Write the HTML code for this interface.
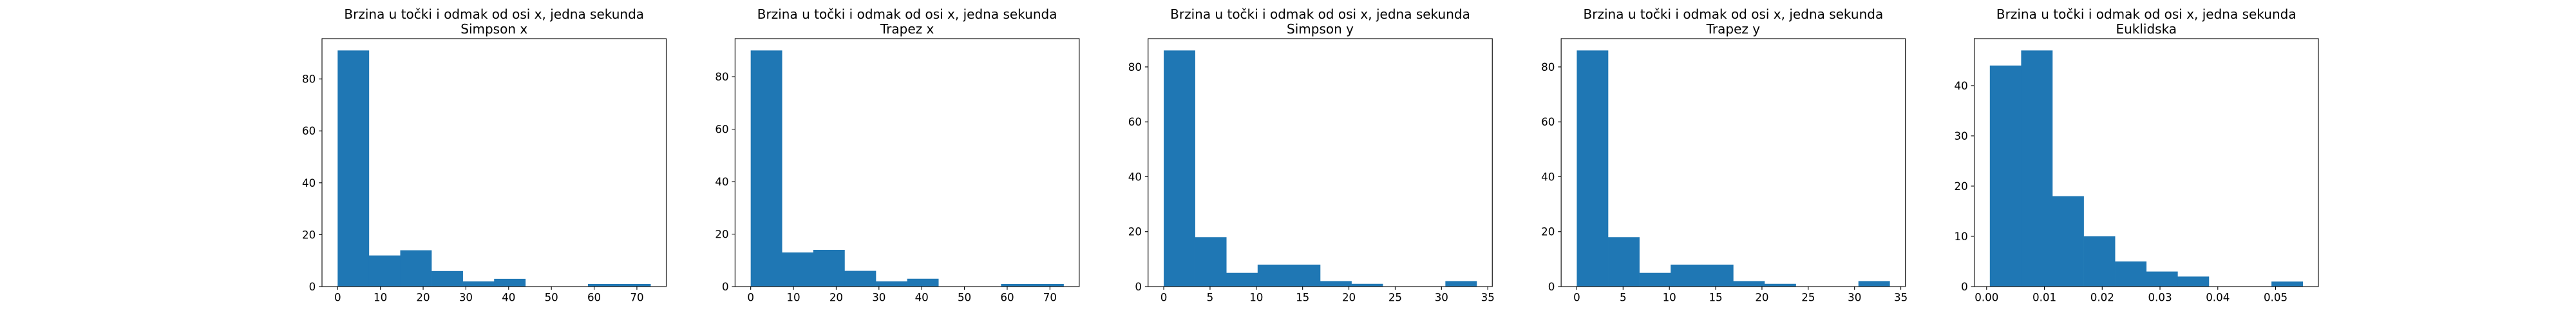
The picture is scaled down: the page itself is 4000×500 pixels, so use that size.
<!DOCTYPE html>
<html><head><meta charset="utf-8"><style>
html,body{margin:0;padding:0;background:#fff;}
svg{display:block;font-family:"DejaVu Sans","Liberation Sans",sans-serif;}
</style></head><body>
<svg id="fig" width="4000" height="500" viewBox="0 0 4000 500" xmlns="http://www.w3.org/2000/svg"></svg>
<script>
// Histogram data per panel
const titles = ["Simpson x","Trapez x","Simpson y","Trapez y","Euklidska"];
const countsSimpsonX = [91,12,14,6,2,3,0,0,1,1];
const countsTrapezX = [90,13,14,6,2,3,0,0,1,1];
const countsSimpsonY = [86,18,5,8,8,2,1,0,0,2];
const countsTrapezY = [86,18,5,8,8,2,1,0,0,2];
const countsEuklid = [44,47,18,10,5,3,2,0,0,1];
const rangeSimpsonX = [0,73.2];
const rangeTrapezX = [0,73.2];
const rangeSimpsonY = [0,33.8];
const rangeTrapezY = [0,33.8];
const rangeEuklid = [0.00056,0.0547];
const xTicksA = [0,10,20,30,40,50,60,70];
const xTicksB = [0,5,10,15,20,25,30,35];
const xTicksC = [0,0.01,0.02,0.03,0.04,0.05];
const xTickLabelsC = ["0.00","0.01","0.02","0.03","0.04","0.05"];
const yTicksA = [0,20,40,60,80];
const yTicksC = [0,10,20,30,40];

const panels = [
 {counts:countsSimpsonX, range:rangeSimpsonX, xt:xTicksA, xl:null, yt:yTicksA},
 {counts:countsTrapezX, range:rangeTrapezX, xt:xTicksA, xl:null, yt:yTicksA},
 {counts:countsSimpsonY, range:rangeSimpsonY, xt:xTicksB, xl:null, yt:yTicksA},
 {counts:countsTrapezY, range:rangeTrapezY, xt:xTicksB, xl:null, yt:yTicksA},
 {counts:countsEuklid, range:rangeEuklid, xt:xTicksC, xl:xTickLabelsC, yt:yTicksC}
];

const svgEl = document.getElementById('fig');
const NS = "http://www.w3.org/2000/svg";
function mk(tag, attrs, parent){
  const e = document.createElementNS(NS, tag);
  for (const k in attrs) e.setAttribute(k, attrs[k]);
  parent.appendChild(e); return e;
}
const axW = 3100/5.8, axGap = axW*0.2, axTop = 60, axBottom = 445;
panels.forEach((p, i) => {
  const left = 500 + i*(axW+axGap);
  const g = mk('g', {}, svgEl);
  
  
  const lo = p.range[0], hi = p.range[1];
  const span = hi - lo;
  const xmin = lo - 0.05*span, xmax = hi + 0.05*span;
  const ymax = Math.max(...p.counts) * 1.05;
  const sx = v => left + (v - xmin)/(xmax - xmin)*axW;
  const sy = v => axBottom - v/ymax*(axBottom - axTop);
  const n = p.counts.length, bw = span/n;
  p.counts.forEach((c, k) => {
    if (c <= 0) return;
    const x0 = sx(lo + k*bw), x1 = sx(lo + (k+1)*bw);
    const r = mk('rect', {x:x0, y:sy(c), width:x1-x0+0.3, height:axBottom - sy(c), fill:'#1f77b4'}, g);
    
    
  });
  const frame = mk('rect', {x:left, y:axTop, width:axW, height:axBottom-axTop, fill:'none', stroke:'#000', 'stroke-width':1.1}, g);
  
  
  p.xt.forEach((t, k) => {
    const x = sx(t);
    mk('line', {x1:x, x2:x, y1:axBottom, y2:axBottom+4.9, stroke:'#000', 'stroke-width':1.1}, g);
    const tx = mk('text', {x:x, y:axBottom+22.5, 'font-size':16.7, 'text-anchor':'middle', fill:'#000'}, g);
    tx.textContent = p.xl ? p.xl[k] : String(t);
    
    
  });
  p.yt.forEach(t => {
    const y = sy(t);
    mk('line', {x1:left-4.9, x2:left, y1:y, y2:y, stroke:'#000', 'stroke-width':1.1}, g);
    const tx = mk('text', {x:left-9.8, y:y+6, 'font-size':16.7, 'text-anchor':'end', fill:'#000'}, g);
    tx.textContent = String(t);
    
    
  });
  const cx = left + axW/2;
  const t1 = mk('text', {x:cx, y:29, 'font-size':20, 'text-anchor':'middle', fill:'#000'}, g);
  t1.textContent = 'Brzina u točki i odmak od osi x, jedna sekunda';
  
  
  const t2 = mk('text', {x:cx, y:52, 'font-size':20, 'text-anchor':'middle', fill:'#000'}, g);
  t2.textContent = titles[i];
  
  
});
</script>
</body></html>
